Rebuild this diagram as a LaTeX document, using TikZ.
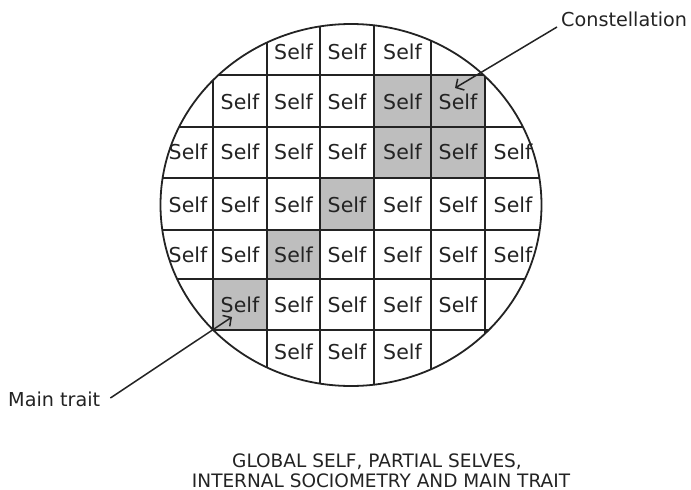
\documentclass[tikz,border=0pt]{standalone}
\usepackage{fontspec}
\setmainfont{DejaVu Sans}
\usetikzlibrary{arrows.meta}
\definecolor{cellgrey}{RGB}{190,190,190}
\definecolor{ink}{RGB}{35,35,35}
\definecolor{txt}{RGB}{35,35,35}
\tikzset{
  gridline/.style={draw=ink, line width=1.6pt},
  rim/.style={draw=ink, line width=1.8pt},
  selfcell/.style={text=txt, inner sep=0pt, font=\fontsize{20.5}{24}\selectfont},
  lbl/.style={text=txt, inner sep=0pt, font=\fontsize{19.2}{22}\selectfont},
  caption/.style={text=txt, inner sep=0pt, font=\fontsize{18.5}{22}\selectfont},
  pointer/.style={draw=ink, line width=1.5pt, -{Straight Barb[length=6pt,width=13pt,line width=1.5pt]}},
  greycell/.style={fill=cellgrey}
}
\begin{document}
\begin{tikzpicture}[x=1pt,y=-1pt]
\useasboundingbox (0,0) rectangle (691,490);
% clipped grid
\begin{scope}
  \clip (351,205) ellipse [x radius=190.5, y radius=181];
  \fill[greycell] (374,75) rectangle (485,178);
  \fill[greycell] (320,178) rectangle (374,230);
  \fill[greycell] (267,230) rectangle (320,279);
  \fill[greycell] (213,279) rectangle (267,330);
  \foreach \gx in {213,267,320,374,431,485}
    \draw[gridline] (\gx,0) -- (\gx,400);
  \foreach \gy in {75,127,178,230,279,330}
    \draw[gridline] (150,\gy) -- (560,\gy);
\end{scope}
\draw[rim] (351,205) ellipse [x radius=190.5, y radius=181];
% cell texts
\foreach \r/\y/\cols in {1/51.5/{3,4,5}, 2/101.5/{2,3,4,5,6}, 3/152/{1,2,3,4,5,6,7}, 4/205/{1,2,3,4,5,6,7}, 5/255/{1,2,3,4,5,6,7}, 6/305/{2,3,4,5,6}, 7/352/{3,4,5}}{
  \foreach \c in \cols {
    \pgfmathsetmacro{\cx}{{188,240,293.5,347,402.5,458,513}[\c-1]}
    \node[selfcell] (s\r-\c) at (\cx,\y) {Self};
  }
}
% labels
\node[lbl, anchor=base west] (con) at (561,26) {Constellation};
\node[lbl, anchor=base west] (mt) at (8,406) {Main trait};
\coordinate (conTip) at (455,88);
\coordinate (mtTip) at (232,317);
\draw[pointer] ([xshift=-4pt,yshift=-1pt]con.base west) -- (conTip);
\draw[pointer] ([xshift=10pt,yshift=8pt]mt.base east) -- (mtTip);
% caption
\node[caption, anchor=base] (cap1) at (377,467) {GLOBAL SELF, PARTIAL SELVES,};
\node[caption, anchor=base] (cap2) at (381,487) {INTERNAL SOCIOMETRY AND MAIN TRAIT};
\end{tikzpicture}
\end{document}
